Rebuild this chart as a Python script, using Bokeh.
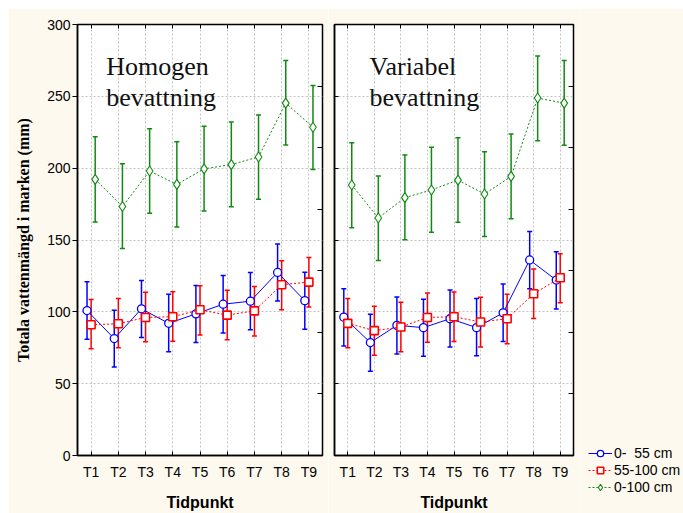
from bokeh.plotting import figure
from bokeh.layouts import row
from bokeh.models import (ColumnDataSource, Range1d, FixedTicker, LinearAxis,
                          CategoricalAxis, Whisker, TeeHead, Label, Legend, LegendItem)
from bokeh.transform import dodge
from bokeh.embed import file_html
from bokeh.resources import INLINE

# ---------------- data ----------------
times = ["T1", "T2", "T3", "T4", "T5", "T6", "T7", "T8", "T9"]
series_labels = ["0-  55 cm", "55-100 cm", "0-100 cm"]
y_ticks = [0, 50, 100, 150, 200, 250, 300]
panel_titles = [["Homogen", "bevattning"], ["Variabel", "bevattning"]]
x_title = "Tidpunkt"
y_title = "Totala vattenmängd i marken (mm)"

# Homogen bevattning
homo_0_55_mean = [100.9, 81.4, 102.1, 92.0, 98.6, 105.3, 107.4, 127.4, 107.8]
homo_0_55_low = [80.9, 61.6, 82.1, 72.2, 78.6, 85.3, 87.6, 107.6, 87.8]
homo_0_55_high = [120.9, 101.1, 121.8, 112.2, 118.4, 125.3, 127.4, 147.3, 127.6]
homo_55_100_mean = [91.0, 91.7, 96.1, 96.6, 101.4, 97.7, 100.7, 118.9, 120.7]
homo_55_100_low = [74.3, 75.0, 79.1, 79.5, 83.9, 80.5, 83.2, 101.4, 103.4]
homo_55_100_high = [108.5, 109.2, 113.6, 114.0, 118.2, 115.0, 117.7, 135.6, 137.9]
homo_0_100_mean = [192.2, 173.3, 198.0, 188.7, 199.5, 202.5, 207.8, 245.3, 228.5]
homo_0_100_low = [162.5, 144.0, 168.7, 159.1, 170.1, 173.1, 178.4, 216.1, 199.1]
homo_0_100_high = [221.8, 203.0, 227.4, 218.4, 229.2, 232.2, 237.0, 274.9, 257.5]

# Variabel bevattning
var_0_55_mean = [96.3, 78.6, 90.6, 89.0, 95.2, 89.0, 99.3, 136.1, 122.1]
var_0_55_low = [76.3, 58.6, 70.6, 69.0, 75.6, 69.4, 79.3, 116.1, 101.9]
var_0_55_high = [116.1, 98.4, 110.3, 108.7, 115.2, 109.2, 119.3, 155.9, 141.9]
var_55_100_mean = [92.0, 86.9, 89.4, 96.1, 96.6, 92.9, 95.2, 112.6, 123.7]
var_55_100_low = [75.0, 69.7, 72.2, 78.9, 79.3, 75.6, 77.7, 95.4, 106.4]
var_55_100_high = [109.2, 103.9, 106.7, 113.1, 113.8, 110.1, 112.2, 129.9, 140.5]
var_0_100_mean = [188.3, 165.3, 179.5, 184.8, 191.7, 182.0, 194.3, 248.8, 245.3]
var_0_100_low = [158.6, 135.7, 150.1, 155.4, 162.3, 152.4, 164.8, 219.1, 215.9]
var_0_100_high = [217.7, 194.5, 209.2, 214.5, 221.2, 211.5, 223.7, 278.1, 274.9]

# ---------------- styles ----------------
CREAM = "#fdf9ee"
GRID = "#c4c4c4"
styles = [
    dict(color="#0000ff", dash="solid", marker="circle", size=8, mlw=1.3, off=-0.15),
    dict(color="#ff0000", dash="2 2", marker="square", size=8, mlw=1.6, off=0.0),
    dict(color="#108a10", dash="2 2", marker="diamond", size=10, mlw=1.1, off=0.15),
]


def make_panel(series, titles, title_x, first):
    p = figure(x_range=times, y_range=Range1d(0, 300),
               width=320 if first else 251, height=505,
               min_border_left=69 if first else 6,
               min_border_right=6,
               min_border_top=16, min_border_bottom=54,
               output_backend="svg", toolbar_location=None,
               background_fill_color="white", border_fill_color=CREAM,
               outline_line_color="black", outline_line_width=1.5)

    # axes
    p.yaxis.ticker = FixedTicker(ticks=y_ticks)
    p.yaxis.minor_tick_line_color = None
    for ax in [p.xaxis[0], p.yaxis[0]]:
        ax.axis_line_color = "black"
        ax.axis_line_width = 1.5
        ax.major_tick_in = 4
        ax.major_tick_out = 0
        ax.major_tick_line_color = "black"
        ax.major_label_text_font = "Liberation Sans"
        ax.major_label_text_font_size = "14px"
        ax.major_label_text_color = "black"
    p.xaxis.major_label_standoff = 8
    p.xaxis.axis_label = x_title
    p.xaxis.axis_label_text_font = "Liberation Sans"
    p.xaxis.axis_label_text_font_style = "bold"
    p.xaxis.axis_label_text_font_size = "16px"
    p.xaxis.axis_label_standoff = 11
    p.xaxis.axis_label_text_color = "black"
    if first:
        p.yaxis.major_tick_in = 0
        p.yaxis.major_tick_out = 5
        p.yaxis.major_label_standoff = 2
        p.yaxis.axis_label = y_title
        p.yaxis.axis_label_text_font = "Liberation Serif"
        p.yaxis.axis_label_text_font_style = "bold"
        p.yaxis.axis_label_text_font_size = "16px"
        p.yaxis.axis_label_standoff = 12
        p.yaxis.axis_label_text_color = "black"
    else:
        p.yaxis.major_label_text_font_size = "0px"
        p.yaxis.major_label_text_color = None

    # top axis (ticks only)
    top = CategoricalAxis(major_tick_in=4, major_tick_out=0, axis_line_color=None,
                          major_label_text_font_size="0px", major_label_text_color=None)
    p.add_layout(top, "above")
    # right axis (ticks only, 7 divisions)
    right = LinearAxis(ticker=FixedTicker(ticks=[300 / 7 * i for i in range(1, 7)]),
                       major_tick_in=5, major_tick_out=0, axis_line_color=None,
                       minor_tick_line_color=None,
                       major_label_text_font_size="0px", major_label_text_color=None)
    p.add_layout(right, "right")

    # grids
    p.ygrid.ticker = FixedTicker(ticks=y_ticks)
    for g in [p.xgrid[0], p.ygrid[0]]:
        g.grid_line_color = GRID
        g.grid_line_dash = "2 2"
        g.grid_line_width = 1

    sources = []
    for (mean, low, high), st in zip(series, styles):
        src = ColumnDataSource(dict(t=times, m=mean, lo=low, hi=high))
        sources.append(src)
        xpos = dodge("t", st["off"], range=p.x_range)
        w = Whisker(base=xpos, upper="hi", lower="lo", source=src,
                    line_color=st["color"], line_width=1.5, level="underlay",
                    upper_head=TeeHead(size=5, line_color=st["color"], line_width=1.5),
                    lower_head=TeeHead(size=5, line_color=st["color"], line_width=1.5))
        p.add_layout(w)
        p.line(x=xpos, y="m", source=src, line_color=st["color"],
               line_width=1, line_dash=st["dash"])
        p.scatter(x=xpos, y="m", source=src, marker=st["marker"], size=st["size"],
                  line_color=st["color"], fill_color="white", line_width=st["mlw"])

    # panel title
    p.add_layout(Label(x=title_x, y=271, text=titles[0], text_font="Liberation Serif",
                       text_font_size="26px", text_color="#111111", text_baseline="alphabetic"))
    p.add_layout(Label(x=title_x, y=249.5, text=titles[1], text_font="Liberation Serif",
                       text_font_size="26px", text_color="#111111", text_baseline="alphabetic"))

    p.toolbar.logo = None
    return p, sources


p1, _ = make_panel([(homo_0_55_mean, homo_0_55_low, homo_0_55_high),
                    (homo_55_100_mean, homo_55_100_low, homo_55_100_high),
                    (homo_0_100_mean, homo_0_100_low, homo_0_100_high)],
                   panel_titles[0], 1.055, True)
p2, var_sources = make_panel([(var_0_55_mean, var_0_55_low, var_0_55_high),
                              (var_55_100_mean, var_55_100_low, var_55_100_high),
                              (var_0_100_mean, var_0_100_low, var_0_100_high)],
                             panel_titles[1], 1.32, False)

# legend strip: its key renderers use the series data but lie outside this strip's view
pl = figure(width=104, height=505, x_range=Range1d(0, 1), y_range=Range1d(0, 1),
            x_axis_type=None, y_axis_type=None, output_backend="svg", toolbar_location=None,
            min_border_left=0, min_border_right=0, min_border_top=0, min_border_bottom=0,
            background_fill_color=CREAM, border_fill_color=CREAM, outline_line_color=None)
try:
    pl.frame_align = False
    legend_y = 18
except Exception:
    legend_y = -36
items = []
for st, lab, src in zip(styles, series_labels, var_sources):
    lr = pl.line(x="m", y="m", source=src, line_color=st["color"],
                 line_width=1, line_dash=st["dash"])
    sr = pl.scatter(x="m", y="m", source=src, marker=st["marker"], size=st["size"],
                    line_color=st["color"], fill_color="white", line_width=st["mlw"])
    items.append(LegendItem(label=lab, renderers=[lr, sr]))
lg = Legend(items=items, location=(9, legend_y), orientation="vertical",
            label_text_font="Liberation Sans", label_text_font_size="14px",
            label_text_color="black", label_standoff=2,
            glyph_width=24, glyph_height=16, label_height=16,
            spacing=1, padding=0, margin=0,
            border_line_alpha=0, background_fill_alpha=0)
pl.add_layout(lg, "center")
pl.toolbar.logo = None

layout = row(p1, p2, pl, spacing=0, margin=(8, 0, 0, 8))
open("out.html", "w").write(file_html(layout, INLINE))
